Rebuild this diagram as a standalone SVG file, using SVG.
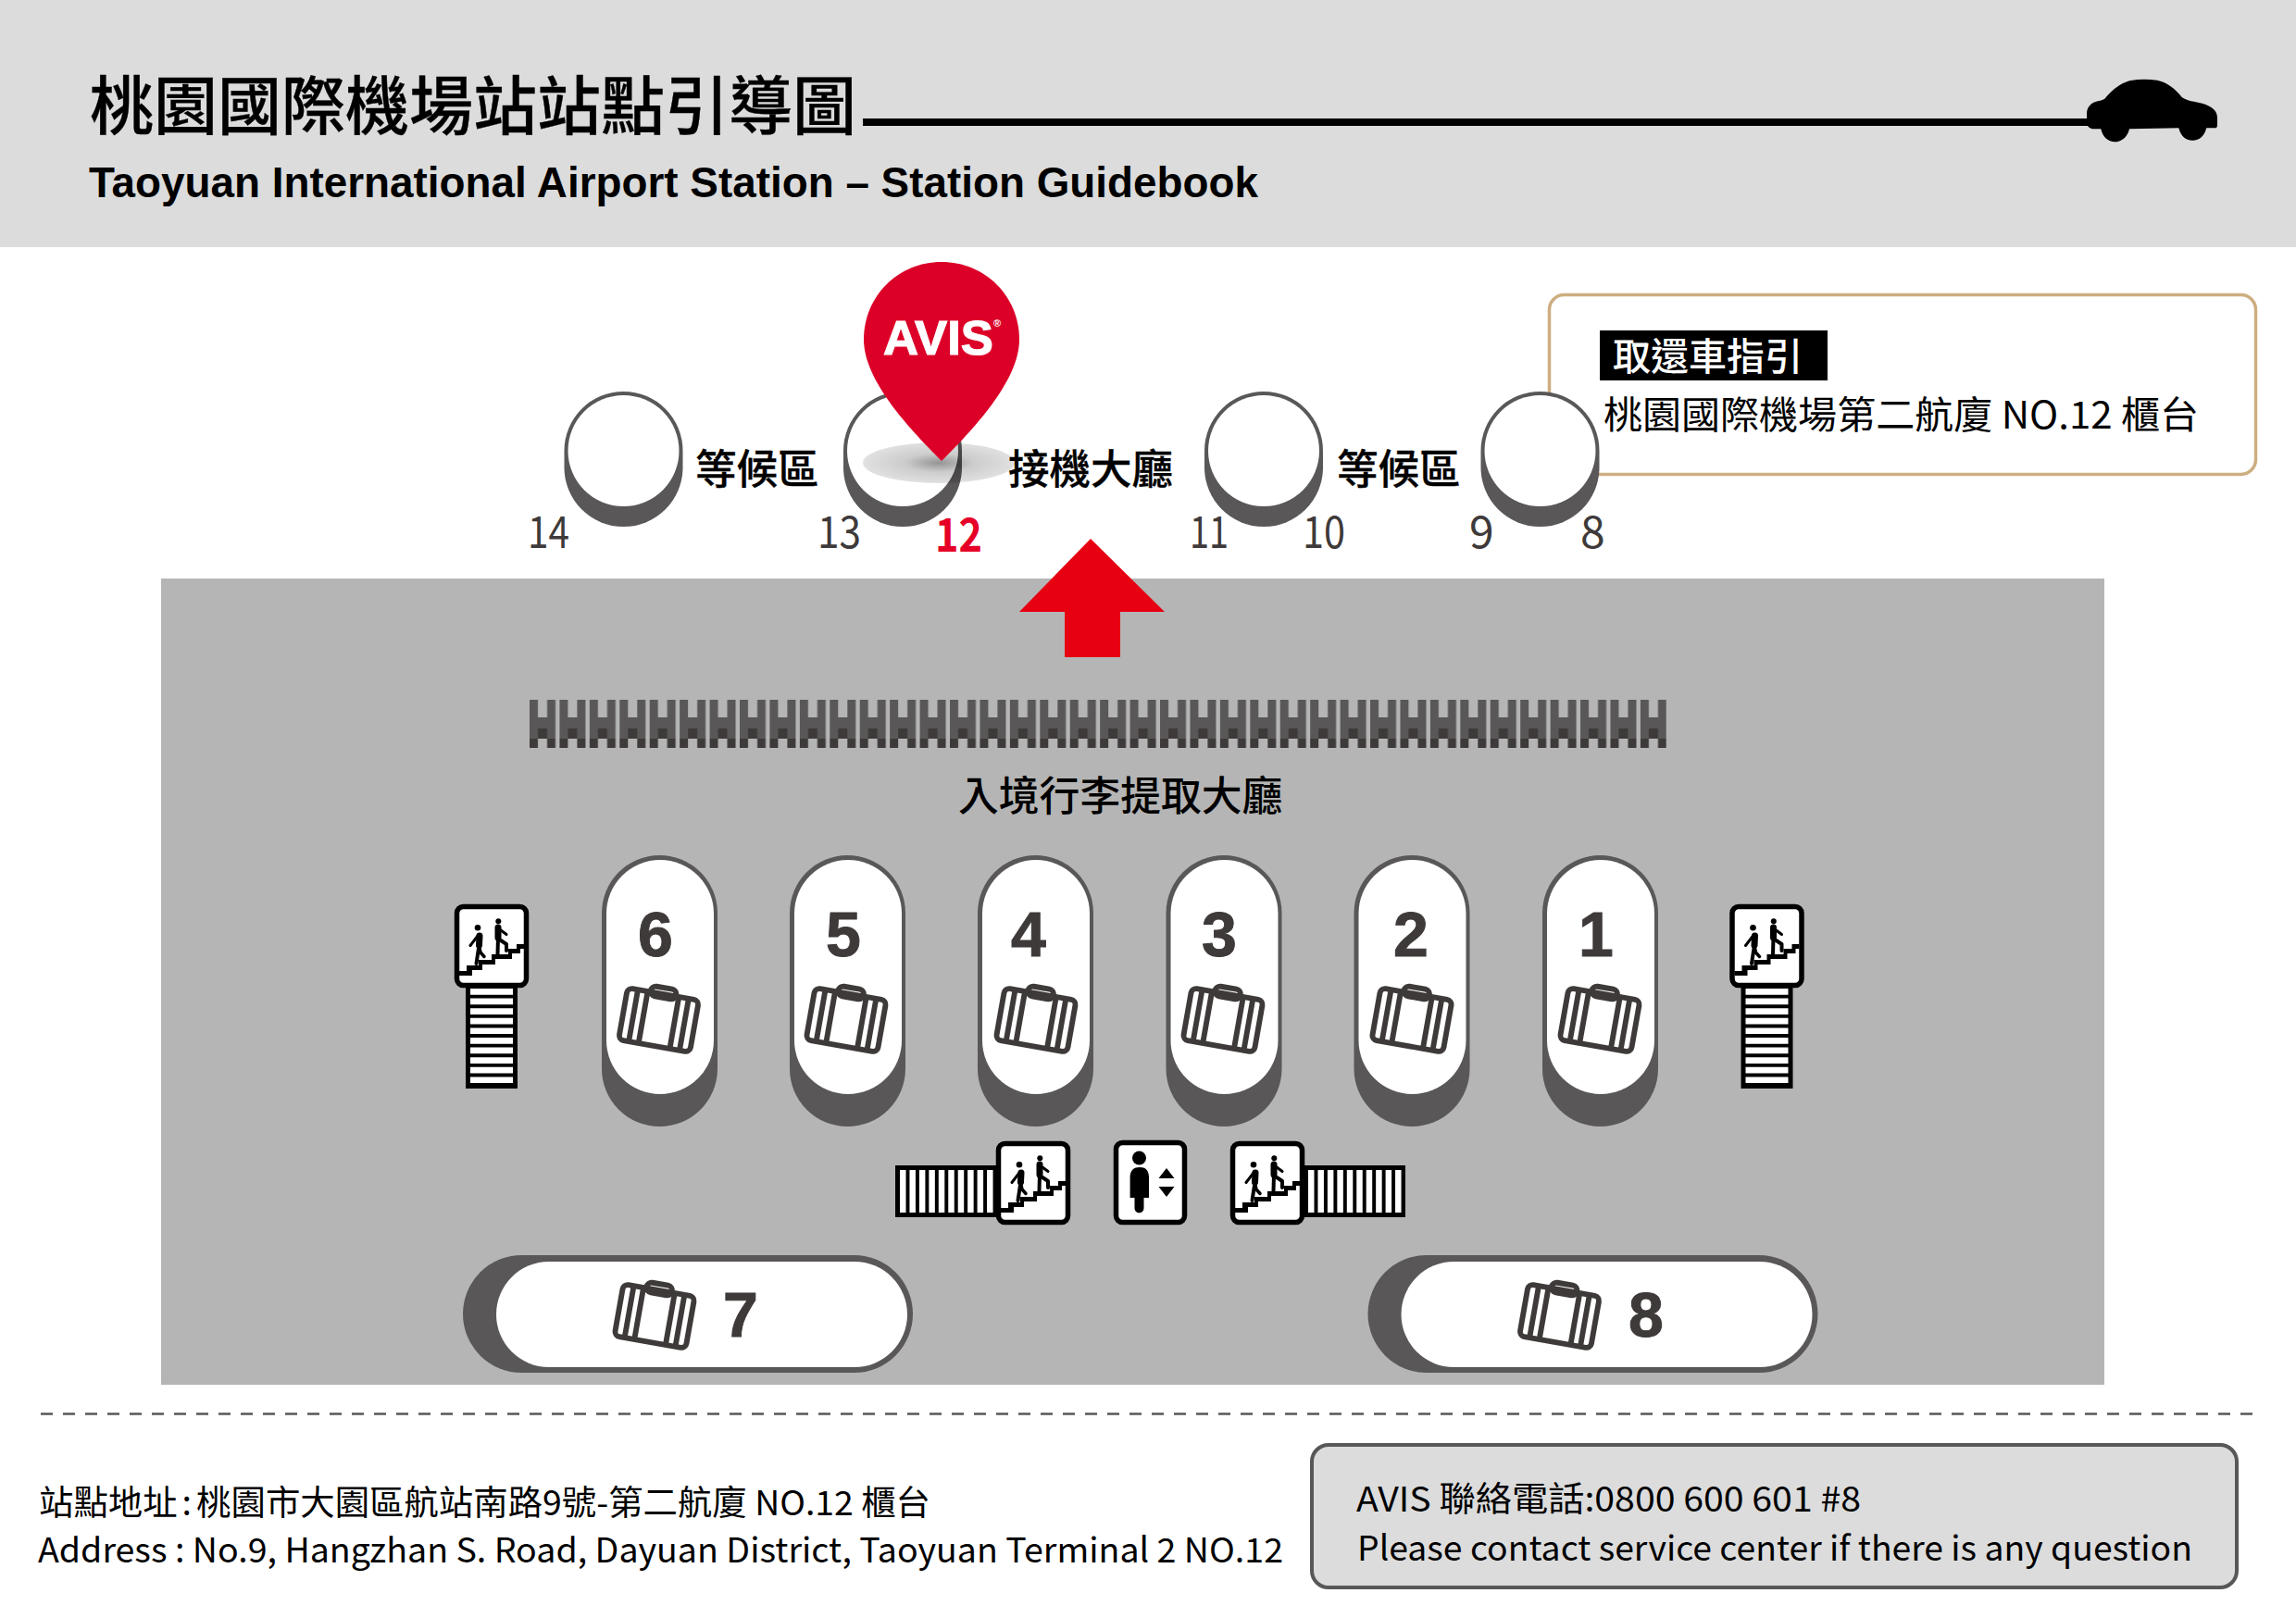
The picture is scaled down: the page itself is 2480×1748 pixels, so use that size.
<svg xmlns="http://www.w3.org/2000/svg" width="2480" height="1748" viewBox="0 0 2480 1748">
<style>
.cjk{font-family:"Noto Sans CJK TC","Noto Sans",sans-serif}
.ar{font-family:"Liberation Sans",Arial,sans-serif;font-weight:700}
.lab{font-size:44.500px;font-weight:500;fill:#000;stroke:#000;stroke-width:.3px}
.num{font-size:48px;fill:#3e3a39}
.big{font-size:68px;fill:#3e3a39;stroke:#3e3a39;stroke-width:1px;text-anchor:middle}
.dk{fill:#595757}
.foot{font-size:37px;fill:#000}
</style>
<defs>
<pattern id="fence" x="572" y="756" width="32.43" height="52" patternUnits="userSpaceOnUse">
<path fill="#595757" d="M0 0h9v19h10V0h9v42H0z"/>
<rect x="9" y="31" width="10" height="11" fill="#3e3a39"/>
<rect x="0" y="42" width="9" height="10" fill="#3e3a39"/>
<rect x="19" y="42" width="9" height="10" fill="#3e3a39"/>
</pattern>
<radialGradient id="shadow">
<stop offset="0" stop-color="#000" stop-opacity=".42"/>
<stop offset=".45" stop-color="#000" stop-opacity=".2"/>
<stop offset="1" stop-color="#000" stop-opacity=".12"/>
</radialGradient>
<g id="case" fill="none" stroke="#3e3a39" stroke-width="5.500">
<rect x="-36.500" y="-26.500" width="73" height="53" rx="5"/>
<rect x="-13" y="-33" width="26" height="10" rx="5"/>
<path d="M-26-26V26M-16-26V26M16-26V26M26-26V26"/>
</g>
<g id="stair">
<rect x="2.500" y="2.500" width="75" height="85" rx="7" fill="#fff" stroke="#000" stroke-width="5.500"/>
<path d="M5 72H13V66H26V60H40V54H58V48H67V43H75V48H71V53H62V59H44V65H30V71H19V77H5z"/>
<circle cx="25" cy="25.300" r="3.300"/>
<circle cx="47.300" cy="18.300" r="3"/>
<g fill="none" stroke="#000" stroke-linejoin="round" stroke-linecap="round">
<path d="M27 34L26.500 44" stroke-width="7"/>
<path d="M26.500 44L23.500 64" stroke-width="4"/>
<path d="M27 47L28 52L32 56.500" stroke-width="3.500"/>
<path d="M25 34L17 44.500" stroke-width="3"/>
<path d="M47 25L47 36" stroke-width="7"/>
<path d="M47 36L46.500 54" stroke-width="4"/>
<path d="M50 39L56 43L56 50" stroke-width="4"/>
<path d="M50 28L56 32.500" stroke-width="3"/>
</g>
</g>
<g id="ladderV">
<rect x="0" y="0" width="56" height="109"/>
<path fill="#fff" d="M5 1h46v6.700H5zM5 11.600h46v6.700H5zM5 22.200h46v6.700H5zM5 32.800h46v6.700H5zM5 43.400h46v6.700H5zM5 54h46v6.700H5zM5 64.600h46v6.700H5zM5 75.200h46v6.700H5zM5 85.800h46v6.700H5zM5 96.400h46v6.700H5z"/>
</g>
<g id="ladderH">
<rect x="0" y="0" width="110" height="56"/>
<path fill="#fff" d="M5 5h6.500v46H5zM15.450 5h6.500v46h-6.500zM25.900 5h6.500v46h-6.500zM36.350 5h6.500v46h-6.500zM46.800 5h6.500v46h-6.500zM57.250 5h6.500v46h-6.500zM67.700 5h6.500v46h-6.500zM78.150 5h6.500v46h-6.500zM88.600 5h6.500v46h-6.500zM99.050 5h6.500v46h-6.500z"/>
</g>
<g id="gate">
<rect x="0" y="0" width="128" height="146" rx="64" class="dk"/>
<circle cx="64" cy="64" r="60" fill="#fff"/>
</g>
<g id="pill">
<rect x="0" y="0" width="125" height="293" rx="62.500" class="dk"/>
<rect x="5" y="5" width="116" height="253" rx="58" fill="#fff"/>
</g>
<g id="hpill">
<rect x="0" y="0" width="486" height="127" rx="63.500" class="dk"/>
<rect x="36" y="7" width="444" height="114" rx="57" fill="#fff"/>
</g>
</defs>

<g id="header">
<rect width="2480" height="267" fill="#dcdcdc"/>
<text x="97" y="140" class="cjk" font-size="69" font-weight="500" stroke="#000" stroke-width=".35">桃園國際機場站站點引導圖</text>
<text x="96" y="213" class="ar" font-size="46" textLength="1263" lengthAdjust="spacingAndGlyphs">Taoyuan International Airport Station – Station Guidebook</text>
<path id="car" d="M2254 121.700C2254.500 116 2258 112 2263.300 110C2267 109 2270 108.500 2273.300 106.700C2280 99 2288 91 2300 87.300C2310 85.500 2320 85.500 2330 86.700C2340 88.500 2350 96 2356.700 105C2360 107.500 2363 108 2366.700 109.300C2375 111 2385 112 2392 119C2394.500 122 2395 125 2395 128V135C2395 137.500 2394 138.300 2392.700 138.300H2383.300C2381 147 2376 151.700 2368.300 151.700C2360.500 151.700 2355.500 147 2353.300 138.300L2300 139.300C2298 148 2292 153.300 2284.500 153.300C2277 153.300 2271 148 2269.300 139.300H2260C2256 138 2254 136 2254 133z"/>
</g>

<g id="connectors">
<rect x="932" y="128" width="1325" height="8"/>
<path d="M44 1527.500H2434" fill="none" stroke="#595757" stroke-width="2.500" stroke-dasharray="13 11"/>
</g>

<g id="gate-14"><use href="#gate" x="609.500" y="423"/></g>
<g id="gate-12-13"><use href="#gate" x="911" y="423"/></g>
<g id="callout">
<rect x="1673.500" y="318.500" width="763" height="194" rx="16" fill="#fff" stroke="#cdae80" stroke-width="3.500"/>
<rect x="1728" y="357" width="246" height="54" fill="#000"/>
<text x="1742" y="400" class="cjk" font-size="41" font-weight="500" fill="#fff">取還車指引</text>
<text x="1732" y="463" class="cjk" font-size="41" fill="#000" textLength="643" lengthAdjust="spacingAndGlyphs">桃園國際機場第二航廈 NO.12 櫃台</text>
</g>
<g id="gate-10-11"><use href="#gate" x="1301" y="423"/></g>
<g id="gate-8-9"><use href="#gate" x="1599.500" y="423"/></g>

<g id="gate-labels">
<text x="751" y="523" class="cjk lab">等候區</text>
<text x="1089" y="523" class="cjk lab">接機大廳</text>
<text x="1444" y="523" class="cjk lab">等候區</text>
<text x="570" y="592" class="cjk num" textLength="45" lengthAdjust="spacingAndGlyphs">14</text>
<text x="883" y="592" class="cjk num" textLength="47" lengthAdjust="spacingAndGlyphs">13</text>
<text x="1010" y="596" class="cjk" font-size="50" font-weight="700" fill="#e60027" textLength="51" lengthAdjust="spacingAndGlyphs">12</text>
<text x="1285" y="592" class="cjk num" textLength="42" lengthAdjust="spacingAndGlyphs">11</text>
<text x="1407" y="592" class="cjk num" textLength="46" lengthAdjust="spacingAndGlyphs">10</text>
<text x="1587" y="592" class="cjk num">9</text>
<text x="1707" y="592" class="cjk num">8</text>
</g>

<g id="avis-pin">
<ellipse cx="1014" cy="500" rx="82" ry="22" fill="url(#shadow)"/>
<path d="M1017 498C985 466 933 412 933 367C933 320 970 283 1017 283C1064 283 1101 320 1101 367C1101 412 1049 466 1017 498z" fill="#dc0028"/>
<text x="954" y="383" class="ar" font-size="52" fill="#fff" stroke="#fff" stroke-width="1.200" textLength="119" lengthAdjust="spacingAndGlyphs">AVIS</text>
<text x="1073" y="353" class="ar" font-size="11" fill="#fff">®</text>
</g>

<g id="arrivals-hall">
<rect x="174" y="625" width="2099" height="871" fill="#b5b5b5"/>
<rect id="fence-bar" x="572" y="756" width="1228" height="52" fill="url(#fence)"/>
<text x="1035" y="876" class="cjk" font-size="43.800" font-weight="500">入境行李提取大廳</text>
</g>

<g id="arrow"><path d="M1178 582L1258 661H1210V710H1150V661H1101z" fill="#e60012"/></g>

<g id="carousel-6"><use href="#pill" x="650" y="924"/><text x="708" y="1033" class="ar big">6</text><use href="#case" transform="translate(711.500 1102) rotate(10) scale(1.07)"/></g>
<g id="carousel-5"><use href="#pill" x="853" y="924"/><text x="911" y="1033" class="ar big">5</text><use href="#case" transform="translate(914 1102) rotate(10) scale(1.07)"/></g>
<g id="carousel-4"><use href="#pill" x="1056" y="924"/><text x="1111" y="1033" class="ar big">4</text><use href="#case" transform="translate(1119 1102) rotate(10) scale(1.07)"/></g>
<g id="carousel-3"><use href="#pill" x="1259.500" y="924"/><text x="1317" y="1033" class="ar big">3</text><use href="#case" transform="translate(1321 1102) rotate(10) scale(1.07)"/></g>
<g id="carousel-2"><use href="#pill" x="1462.500" y="924"/><text x="1524" y="1033" class="ar big">2</text><use href="#case" transform="translate(1525 1102) rotate(10) scale(1.07)"/></g>
<g id="carousel-1"><use href="#pill" x="1666" y="924"/><text x="1724" y="1033" class="ar big">1</text><use href="#case" transform="translate(1728 1102) rotate(10) scale(1.07)"/></g>

<g id="carousel-7"><use href="#hpill" x="500" y="1356"/><use href="#case" transform="translate(707 1422) rotate(10) scale(1.07)"/><text x="800" y="1444" class="ar big">7</text></g>
<g id="carousel-8"><use href="#hpill" x="1477.500" y="1356"/><use href="#case" transform="translate(1684.500 1422) rotate(10) scale(1.07)"/><text x="1778" y="1444" class="ar big">8</text></g>

<g id="stairs-left"><use href="#ladderV" x="503" y="1067"/><use href="#stair" x="491" y="977"/></g>
<g id="stairs-right"><use href="#ladderV" x="1880.500" y="1067"/><use href="#stair" x="1868.500" y="977"/></g>
<g id="stairs-mid-left"><use href="#ladderH" x="967" y="1259"/><use href="#stair" x="1076" y="1233"/></g>
<g id="stairs-mid-right"><use href="#ladderH" x="1408" y="1259"/><use href="#stair" x="1329" y="1233"/></g>
<g id="elevator">
<rect x="1205.500" y="1234.500" width="74" height="86" rx="7" fill="#fff" stroke="#000" stroke-width="5.500"/>
<circle cx="1230.500" cy="1251" r="7.500"/>
<path d="M1220.600 1272C1220.600 1264 1225 1261 1231 1261C1237 1261 1241 1264 1241 1272V1294H1235.500V1305C1235.500 1312 1225.500 1312 1225.500 1305V1294H1220.600z"/>
<path d="M1260 1262L1268.500 1273H1251.500zM1260 1293L1268.500 1282H1251.500z"/>
</g>

<g id="footer">
<text x="42" y="1637" class="cjk foot" textLength="963" lengthAdjust="spacingAndGlyphs">站點地址<tspan dx="5">:</tspan><tspan dx="5">桃園市大園區航站南路9號-第二航廈 NO.12 櫃台</tspan></text>
<text x="41" y="1688" class="cjk foot" textLength="1345" lengthAdjust="spacingAndGlyphs">Address : No.9, Hangzhan S. Road, Dayuan District, Taoyuan  Terminal 2 NO.12</text>
</g>
<g id="contact">
<rect x="1417" y="1561" width="999" height="154" rx="18" fill="#dcdcdc" stroke="#595757" stroke-width="4"/>
<text x="1465" y="1633" class="cjk foot" textLength="545" lengthAdjust="spacingAndGlyphs">AVIS 聯絡電話:0800 600 601 #8</text>
<text x="1466" y="1686" class="cjk foot" textLength="902" lengthAdjust="spacingAndGlyphs">Please contact service center if there is any question</text>
</g>
</svg>
